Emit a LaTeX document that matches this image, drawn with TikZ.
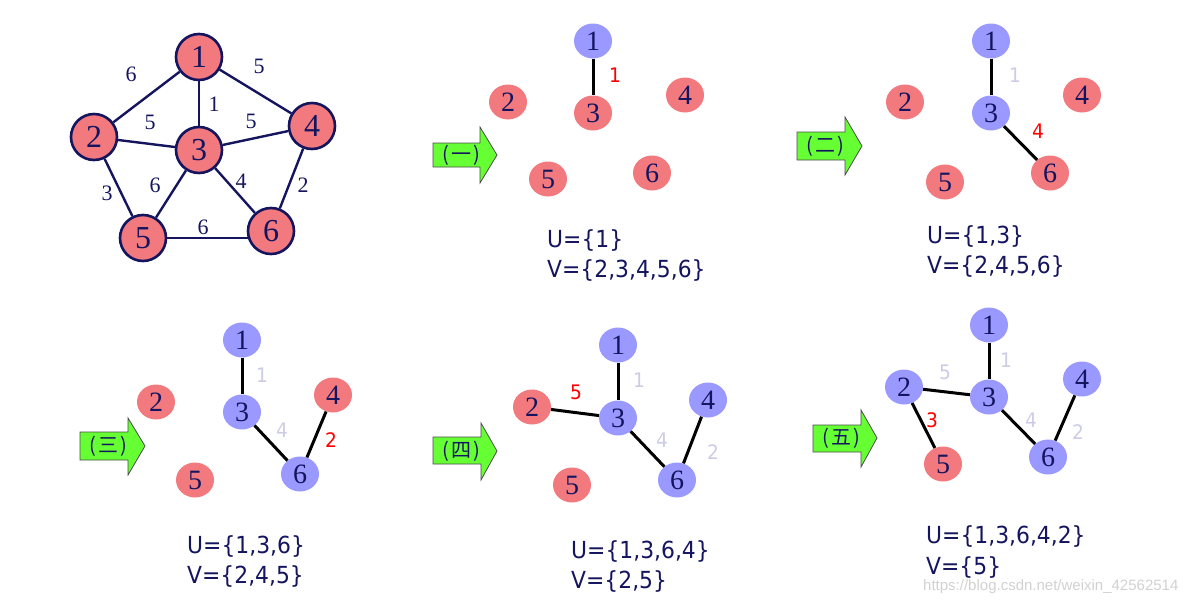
\documentclass[tikz,border=0pt]{standalone}
\usepackage{fontspec}
\usetikzlibrary{shapes.geometric,backgrounds}
\setmainfont{Liberation Serif}
\newfontfamily\uvfont[FakeStretch=0.93]{DejaVu Sans}
\newfontfamily\cjkfont{Noto Sans CJK SC}
\newfontfamily\wmfont{Liberation Sans}
\definecolor{navy}{RGB}{20,20,95}
\definecolor{salmon}{RGB}{242,122,126}
\definecolor{lav}{RGB}{153,153,255}
\definecolor{lgray}{RGB}{204,204,230}
\definecolor{agreen}{RGB}{102,255,51}
\newcommand{\arrlab}[1]{(\kern2pt#1\kern2pt)}
\tikzset{
  gnode/.style={circle,draw=navy,line width=2.6pt,fill=salmon,minimum size=46pt,inner sep=0pt,text=navy,font=\fontsize{32}{32}\selectfont},
  gedge/.style={draw=navy,line width=2.4pt},
  glab/.style={text=navy,inner sep=0pt,font=\fontsize{22}{22}\selectfont},
  rnode/.style={ellipse,fill=salmon,minimum width=38pt,minimum height=35pt,inner sep=0pt,text=navy,font=\fontsize{28}{28}\selectfont},
  bnode/.style={rnode,fill=lav},
  pedge/.style={draw=black,line width=3pt},
  plab/.style={inner sep=0pt,font=\uvfont\fontsize{20}{20}\selectfont},
  redlab/.style={plab,text=red},
  graylab/.style={plab,text=lgray},
  uvtext/.style={anchor=base west,inner sep=0pt,text=navy,font=\uvfont\fontsize{23.5}{23.5}\selectfont},
  garrow/.style={fill=agreen,draw=black!70,line width=0.8pt,line join=miter},
  arrtext/.style={inner sep=0pt,text=navy,font=\cjkfont\fontsize{20}{20}\selectfont},
}
\begin{document}
\begin{tikzpicture}[x=1pt,y=-1pt]
\useasboundingbox (0,0) rectangle (1204,600);

% ---------- main graph ----------
\node[gnode] (a1) at (199,57) {1};
\node[gnode] (a2) at (94,137) {2};
\node[gnode] (a3) at (199,150) {3};
\node[gnode] (a4) at (312,126) {4};
\node[gnode] (a5) at (143,238) {5};
\node[gnode] (a6) at (271,231) {6};
\begin{pgfonlayer}{background}
\draw[gedge] (a1) -- (a2);
\draw[gedge] (a1) -- (a3);
\draw[gedge] (a1) -- (a4);
\draw[gedge] (a2) -- (a3);
\draw[gedge] (a3) -- (a4);
\draw[gedge] (a2) -- (a5);
\draw[gedge] (a3) -- (a5);
\draw[gedge] (a3) -- (a6);
\draw[gedge] (a4) -- (a6);
\draw[gedge] (a5.center) -- (a5.center -| a6.center);
\end{pgfonlayer}
\node[glab] (la12) at (131,74) {6};
\node[glab] (la14) at (259,66) {5};
\node[glab] (la13) at (214,104) {1};
\node[glab] (la23) at (150,122) {5};
\node[glab] (la34) at (251,121) {5};
\node[glab] (la25) at (107,193) {3};
\node[glab] (la35) at (155,185) {6};
\node[glab] (la36) at (241,181) {4};
\node[glab] (la46) at (303,185) {2};
\node[glab] (la56) at (203,227) {6};

% ---------- panel 1 ----------
\draw[garrow] (433,143) -- (480,143) -- (480,127) -- (497,155) -- (480,183) -- (480,167) -- (433,167) -- cycle;
\node[arrtext] (t1) at (461,155) {\arrlab{一}};
\node[bnode] (b1) at (593,41) {1};
\node[rnode] (b2) at (508,102) {2};
\node[rnode] (b3) at (593,113) {3};
\node[rnode] (b4) at (685,95) {4};
\node[rnode] (b5) at (548,179) {5};
\node[rnode] (b6) at (652,173) {6};
\draw[pedge] (b1) -- (b3);
\node[redlab] (lb13) at (615,75) {1};
\node[uvtext] (ub) at (547,247) {U=\{1\}};
\node[uvtext] (vb) at (547,277) {V=\{2,3,4,5,6\}};

% ---------- panel 2 ----------
\draw[garrow] (797,132) -- (845,132) -- (845,117) -- (862,146) -- (845,175) -- (845,160) -- (797,160) -- cycle;
\node[arrtext] (t2) at (825,146) {\arrlab{二}};
\node[bnode] (c1) at (991,41) {1};
\node[rnode] (c2) at (905,102) {2};
\node[bnode] (c3) at (991,113) {3};
\node[rnode] (c4) at (1082,95) {4};
\node[rnode] (c5) at (945,182) {5};
\node[rnode] (c6) at (1050,173) {6};
\draw[pedge] (c1) -- (c3);
\draw[pedge] (c3) -- (c6);
\node[graylab] (lc13) at (1015,75) {1};
\node[redlab] (lc36) at (1038,131) {4};
\node[uvtext] (uc) at (927,243) {U=\{1,3\}};
\node[uvtext] (vc) at (927,273) {V=\{2,4,5,6\}};

% ---------- panel 3 ----------
\draw[garrow] (80,432) -- (128,432) -- (128,418) -- (145,446) -- (128,475) -- (128,460) -- (80,460) -- cycle;
\node[arrtext] (t3) at (108,446) {\arrlab{三}};
\node[bnode] (d1) at (242,340) {1};
\node[rnode] (d2) at (156,402) {2};
\node[bnode] (d3) at (242,412) {3};
\node[rnode] (d4) at (333,395) {4};
\node[rnode] (d5) at (195,480) {5};
\node[bnode] (d6) at (300,474) {6};
\draw[pedge] (d1) -- (d3);
\draw[pedge] (d3) -- (d6);
\draw[pedge] (d6) -- (d4);
\node[graylab] (ld13) at (262,375) {1};
\node[graylab] (ld36) at (282,430) {4};
\node[redlab] (ld46) at (331,440) {2};
\node[uvtext] (ud) at (187,553) {U=\{1,3,6\}};
\node[uvtext] (vd) at (187,583) {V=\{2,4,5\}};

% ---------- panel 4 ----------
\draw[garrow] (433,437) -- (481,437) -- (481,423) -- (497,451) -- (481,480) -- (481,464) -- (433,464) -- cycle;
\node[arrtext] (t4) at (461,451) {\arrlab{四}};
\node[bnode] (e1) at (618,345) {1};
\node[rnode] (e2) at (532,407) {2};
\node[bnode] (e3) at (618,418) {3};
\node[bnode] (e4) at (708,400) {4};
\node[rnode] (e5) at (572,485) {5};
\node[bnode] (e6) at (677,480) {6};
\draw[pedge] (e1) -- (e3);
\draw[pedge] (e3) -- (e6);
\draw[pedge] (e6) -- (e4);
\draw[pedge] (e2) -- (e3);
\node[redlab] (le23) at (576,392) {5};
\node[graylab] (le13) at (639,380) {1};
\node[graylab] (le36) at (662,440) {4};
\node[graylab] (le46) at (713,452) {2};
\node[uvtext] (ue) at (571,558) {U=\{1,3,6,4\}};
\node[uvtext] (ve) at (571,588) {V=\{2,5\}};

% ---------- panel 5 ----------
\draw[garrow] (813,425) -- (861,425) -- (861,410) -- (877,438) -- (861,467) -- (861,452) -- (813,452) -- cycle;
\node[arrtext] (t5) at (841,438) {\arrlab{五}};
\node[bnode] (f1) at (989,325) {1};
\node[bnode] (f2) at (904,387) {2};
\node[bnode] (f3) at (989,397) {3};
\node[bnode] (f4) at (1082,379) {4};
\node[rnode] (f5) at (943,464) {5};
\node[bnode] (f6) at (1048,457) {6};
\draw[pedge] (f1) -- (f3);
\draw[pedge] (f3) -- (f6);
\draw[pedge] (f6) -- (f4);
\draw[pedge] (f2) -- (f3);
\draw[pedge] (f2) -- (f5);
\node[graylab] (lf23) at (945,372) {5};
\node[graylab] (lf13) at (1006,360) {1};
\node[redlab] (lf25) at (932,420) {3};
\node[graylab] (lf36) at (1031,420) {4};
\node[graylab] (lf46) at (1078,432) {2};
\node[uvtext] (uf) at (926,543) {U=\{1,3,6,4,2\}};
\node[uvtext] (vf) at (926,574) {V=\{5\}};

% watermark
\node[anchor=base west,inner sep=0pt,text=black!18,font=\wmfont\fontsize{15}{15}\selectfont] (wm) at (923,590) {https://blog.csdn.net/weixin\_42562514};
\end{tikzpicture}
\end{document}
